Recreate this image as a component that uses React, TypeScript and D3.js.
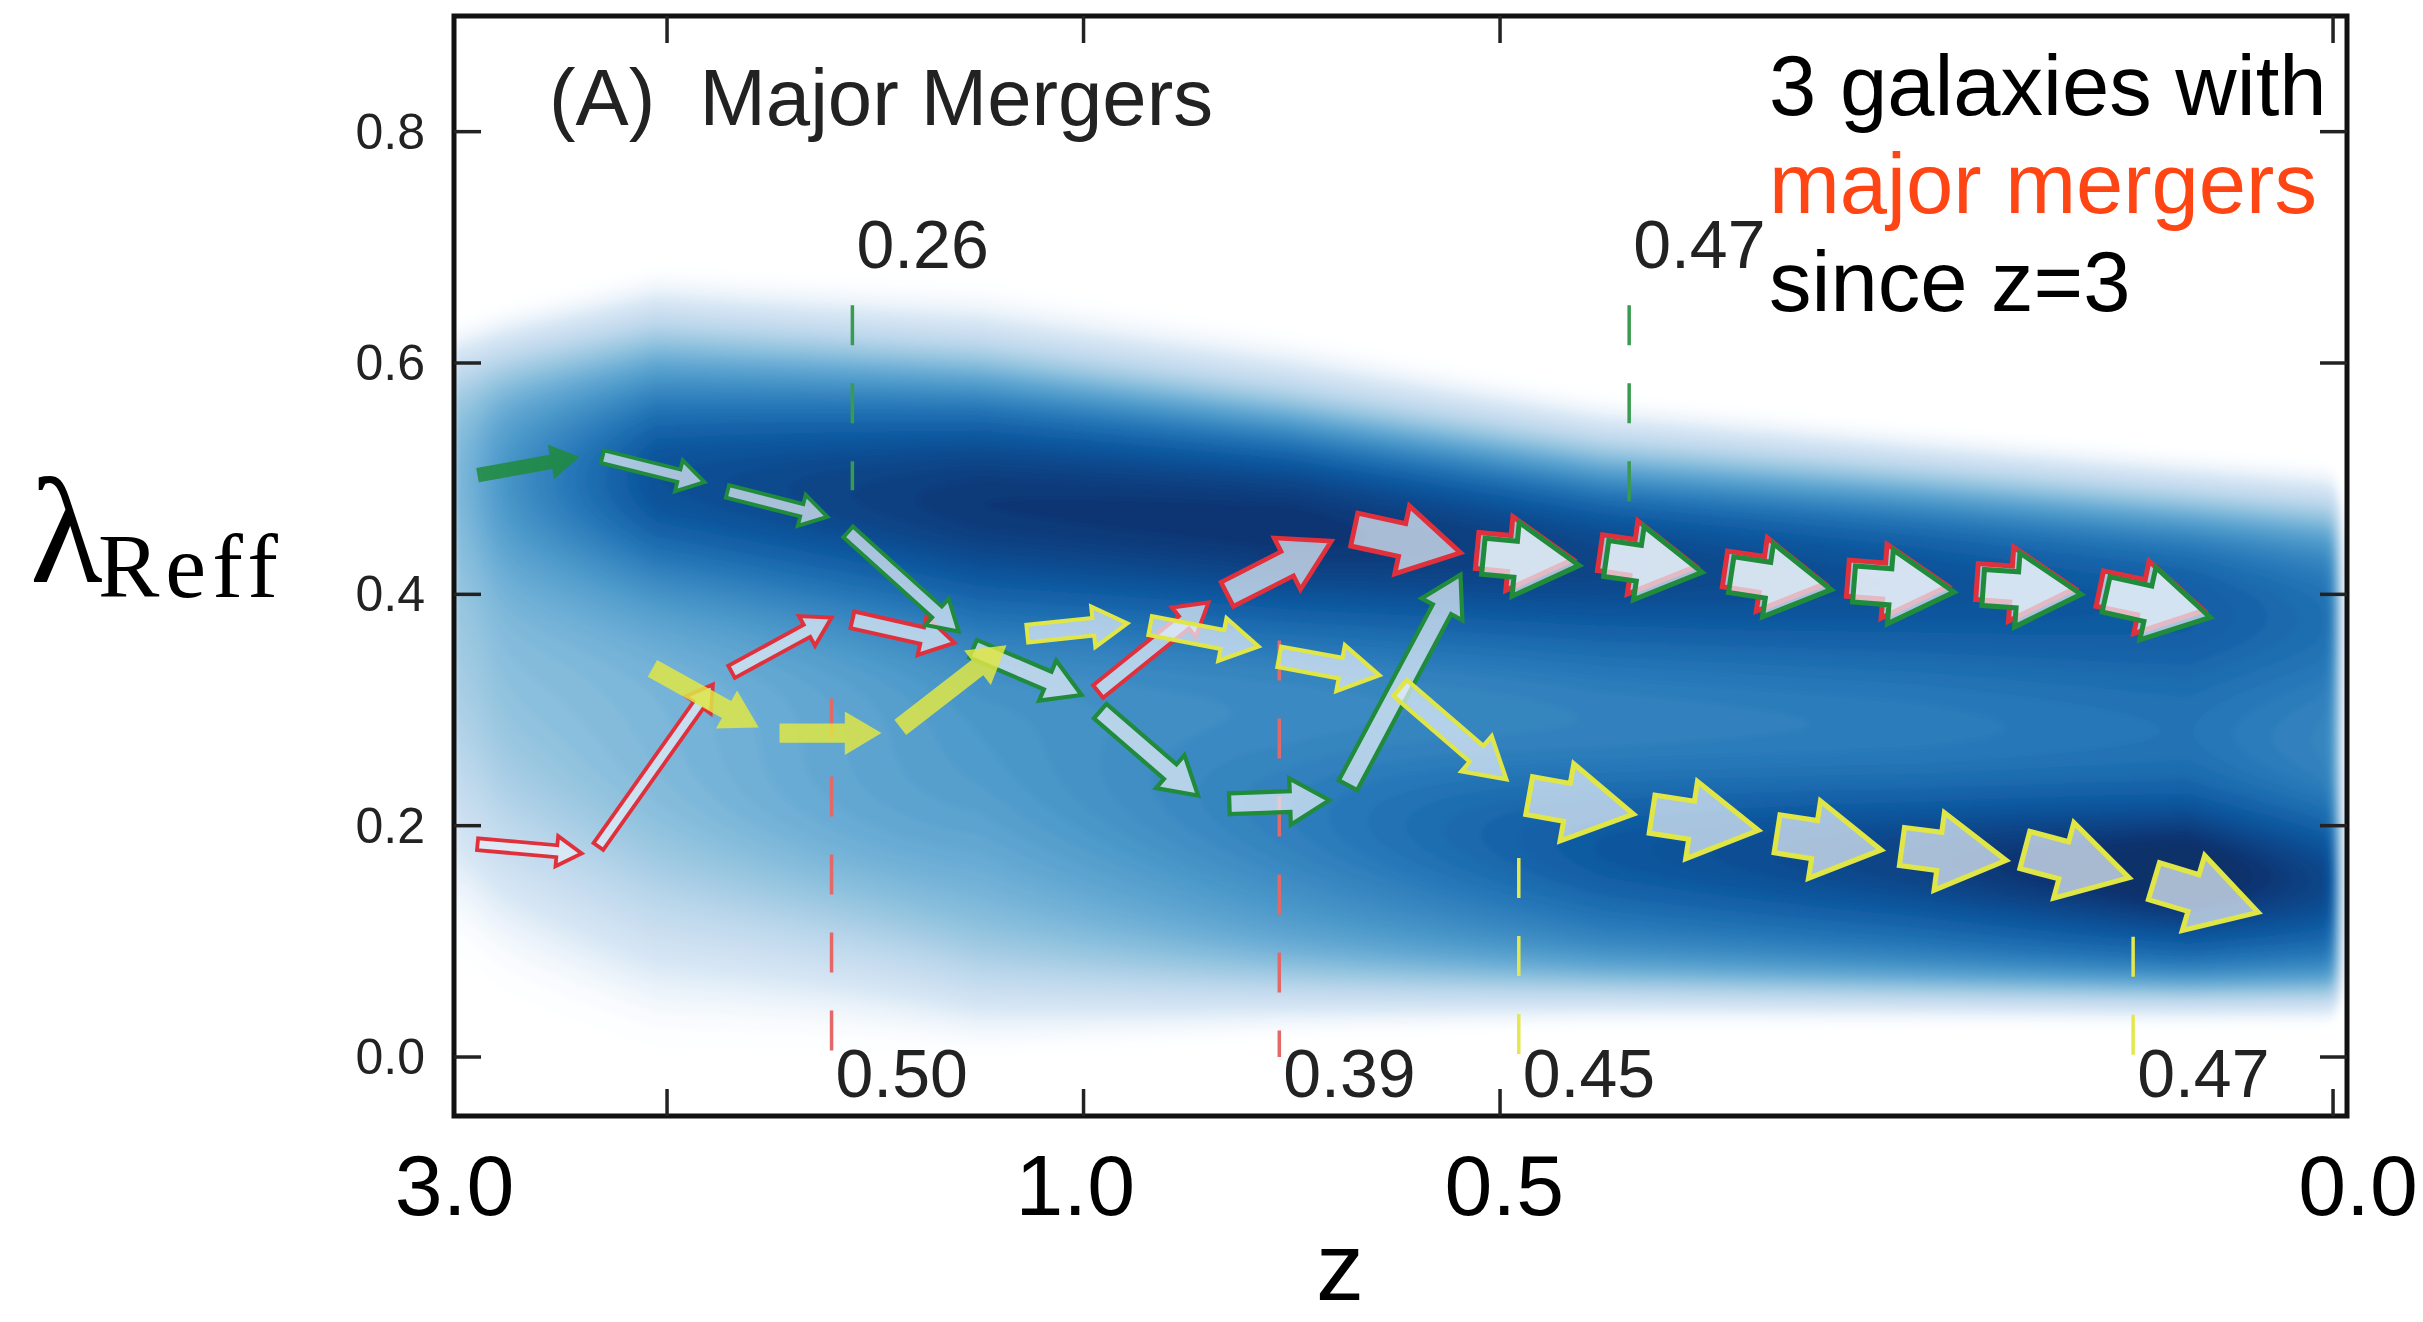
import React, { useMemo } from "react";
import * as d3 from "d3";

const W = 2423;
const H = 1322;

// ---------- axes ----------
const tDomain = [2.977, 12.067]; // underlying linear time-like axis
const lambdaDomain = [-0.051, 0.9];
const frameTicksT = [4, 6, 8, 12];
const lambdaTicks = [0, 0.2, 0.4, 0.6, 0.8];
const lambdaTickLabels = ["0.0", "0.2", "0.4", "0.6", "0.8"];
const zLabels = ["3.0", "1.0", "0.5", "0.0"];
const zLabelT = [2.98, 5.96, 8.02, 12.12];

// ---------- background density model (profile anchors along t) ----------
const densT = [2.98, 3.95, 5.5, 7.0, 8.5, 10.0, 11.3, 12.07];
const baseA = [0.45, 0.42, 0.45, 0.55, 0.65, 0.68, 0.72, 0.65];
const baseLoC = [0.2, 0.13, 0.06, 0.06, 0.06, 0.057, 0.055, 0.055];
const baseLoW = [0.06, 0.055, 0.03, 0.02, 0.015, 0.013, 0.012, 0.012];
const baseHiC = [0.6, 0.63, 0.6, 0.56, 0.52, 0.5, 0.48, 0.47];
const baseHiW = [0.02, 0.022, 0.02, 0.02, 0.02, 0.018, 0.018, 0.018];
const upC = [0.5, 0.5, 0.48, 0.46, 0.43, 0.41, 0.39, 0.38];
const upS = [0.06, 0.075, 0.085, 0.075, 0.06, 0.055, 0.05, 0.05];
const upA = [0.08, 0.46, 0.52, 0.44, 0.28, 0.2, 0.12, 0.1];
const loC = [0.2, 0.2, 0.25, 0.21, 0.18, 0.17, 0.16, 0.15];
const loS = [0.1, 0.1, 0.08, 0.065, 0.05, 0.047, 0.045, 0.045];
const loA = [0, 0.08, 0.12, 0.15, 0.2, 0.26, 0.33, 0.25];

// ---------- galaxy tracks (arrow start/end in t, lambda) ----------
const greenT0 = [3.09, 3.69, 4.29, 4.87, 5.47, 6.08, 6.7, 7.27, 7.92, 8.51, 9.11, 9.7, 10.32, 10.91];
const greenL0 = [0.503, 0.519, 0.489, 0.454, 0.353, 0.299, 0.219, 0.235, 0.433, 0.431, 0.417, 0.409, 0.406, 0.4];
const greenT1 = [3.58, 4.18, 4.77, 5.4, 5.99, 6.55, 7.18, 7.81, 8.38, 8.97, 9.59, 10.18, 10.79, 11.41];
const greenL1 = [0.519, 0.497, 0.467, 0.368, 0.313, 0.226, 0.222, 0.417, 0.425, 0.419, 0.404, 0.402, 0.4, 0.38];
const greenMass = [0.2, 0.15, 0.15, 0.2, 0.35, 0.35, 0.4, 0.4, 0.88, 0.88, 0.88, 0.88, 0.88, 0.88];
const greenSolid = [true, false, false, false, false, false, false, false, false, false, false, false, false, false];

const redT0 = [3.09, 3.67, 4.31, 4.89, 6.07, 6.69, 7.3, 7.89, 8.48, 9.08, 9.67, 10.29, 10.88];
const redL0 = [0.184, 0.182, 0.333, 0.378, 0.316, 0.4, 0.456, 0.438, 0.436, 0.422, 0.414, 0.411, 0.405];
const redT1 = [3.59, 4.22, 4.79, 5.38, 6.6, 7.19, 7.81, 8.35, 8.94, 9.56, 10.15, 10.76, 11.38];
const redL1 = [0.176, 0.322, 0.38, 0.358, 0.393, 0.446, 0.436, 0.43, 0.424, 0.409, 0.407, 0.405, 0.386];
const redMass = [0.12, 0.12, 0.18, 0.28, 0.25, 0.6, 0.8, 0.88, 0.88, 0.88, 0.88, 0.88, 0.88];

const yellowT0 = [3.93, 4.54, 5.12, 5.73, 6.32, 6.94, 7.52, 8.14, 8.73, 9.33, 9.93, 10.52, 11.14];
const yellowL0 = [0.336, 0.28, 0.285, 0.366, 0.373, 0.346, 0.319, 0.226, 0.21, 0.193, 0.182, 0.179, 0.152];
const yellowT1 = [4.44, 5.03, 5.63, 6.21, 6.84, 7.42, 8.03, 8.64, 9.24, 9.83, 10.43, 11.02, 11.64];
const yellowL1 = [0.285, 0.28, 0.356, 0.375, 0.355, 0.33, 0.24, 0.21, 0.196, 0.179, 0.17, 0.155, 0.125];
const yellowMass = [0.35, 0.35, 0.35, 0.3, 0.35, 0.4, 0.4, 0.95, 0.95, 0.95, 0.95, 0.95, 0.95];
const yellowSolid = [true, true, true, false, false, false, false, false, false, false, false, false, false];

// ---------- merger markers ----------
const mergerT = [4.89, 8.62, 4.79, 6.94, 8.09, 11.04];
const mergerRatio = ["0.26", "0.47", "0.50", "0.39", "0.45", "0.47"];
const mergerGalaxy = ["green", "green", "red", "red", "yellow", "yellow"];
const mergerFrom = [0.65, 0.65, 0.31, 0.36, 0.172, 0.104];
const mergerTo = [0.49, 0.476, 0, 0, 0, 0];

// ---------- annotation ----------
const noteLines = ["3 galaxies with", "major mergers", "since z=3"];
const title = "(A)  Major Mergers";

const COL = {
  green: "#1f8b3b",
  red: "#e0303c",
  yellow: "#dfe645",
};
const DASH = {
  green: "#3a9a50",
  red: "#e46868",
  yellow: "#e4e84e",
};

const FL = 454, FR = 2347, FT = 16, FB = 1116;

const x = d3.scaleLinear().domain(tDomain).range([FL, FR]);
const y = d3.scaleLinear().domain(lambdaDomain).range([FB, FT]);
const widthScale = d3.scaleLinear().domain([0, 1]).range([8, 40]);

function anchor(arr: number[]) {
  return d3.scaleLinear().domain(densT).range(arr).clamp(true);
}
const sig = (z: number) => 1 / (1 + Math.exp(-z));

function densityColor(v: number) {
  const b = d3.interpolateBlues(Math.min(1, v));
  const a = Math.max(0, Math.min(1, (v - 0.03) / 0.15));
  return d3.interpolateRgb("#ffffff", b)(a * a * (3 - 2 * a));
}

function arrowPoints(x0: number, y0: number, x1: number, y1: number, w: number) {
  const dx = x1 - x0, dy = y1 - y0;
  const len = Math.hypot(dx, dy);
  const ux = dx / len, uy = dy / len;
  const nx = -uy, ny = ux;
  const hw = w / 2;
  const hh = hw * 1.8 + 4.5;
  const hl = Math.min(w * 1.6 + 6, len * 0.7);
  const bx = x1 - ux * hl, by = y1 - uy * hl;
  const pts = [
    [x0 + nx * hw, y0 + ny * hw],
    [bx + nx * hw, by + ny * hw],
    [bx + nx * hh, by + ny * hh],
    [x1, y1],
    [bx - nx * hh, by - ny * hh],
    [bx - nx * hw, by - ny * hw],
    [x0 - nx * hw, y0 - ny * hw],
  ];
  return pts.map((p) => p[0].toFixed(1) + "," + p[1].toFixed(1)).join(" ");
}

function Track({ t0, l0, t1, l1, mass, solid, color }: any) {
  return (
    <g>
      {t0.map((_: number, i: number) => {
        const w = widthScale(mass[i]);
        const isSolid = solid ? solid[i] : false;
        return (
          <polygon
            key={i}
            points={arrowPoints(x(t0[i]), y(l0[i]), x(t1[i]), y(l1[i]), w)}
            fill={isSolid ? color : "#e4eef8"}
            fillOpacity={isSolid ? 0.85 : 0.72}
            stroke={color}
            strokeWidth={isSolid ? 0 : 3.2 + w * 0.05}
            strokeLinejoin="miter"
          />
        );
      })}
    </g>
  );
}

export default function App() {
  const contours = useMemo(() => {
    const nx = 380, ny = 220;
    const cw = (FR - FL) / nx, ch = (FB - FT) / ny;
    const fBA = anchor(baseA), fBLC = anchor(baseLoC), fBLW = anchor(baseLoW);
    const fBHC = anchor(baseHiC), fBHW = anchor(baseHiW);
    const fUC = anchor(upC), fUS = anchor(upS), fUA = anchor(upA);
    const fLC = anchor(loC), fLS = anchor(loS), fLA = anchor(loA);
    const values = new Float64Array(nx * ny);
    for (let j = 0; j < ny; j++) {
      const lam = y.invert(FT + (j + 0.5) * ch);
      for (let i = 0; i < nx; i++) {
        const t = x.invert(FL + (i + 0.5) * cw);
        const base = fBA(t) * sig((lam - fBLC(t)) / fBLW(t)) * sig((fBHC(t) - lam) / fBHW(t));
        const u = fUA(t) * Math.exp(-0.5 * ((lam - fUC(t)) / fUS(t)) ** 2);
        const l = fLA(t) * Math.exp(-0.5 * ((lam - fLC(t)) / fLS(t)) ** 2);
        let v = base + u + l;
        v *= sig((12.03 - t) / 0.015);
        v *= 0.85 + 0.15 * sig((t - 3.12) / 0.05);
        values[j * nx + i] = v;
      }
    }
    const thresholds = d3.range(0.035, 1.3, 0.018);
    const cs = d3.contours().size([nx, ny]).thresholds(thresholds)(Array.from(values));
    const proj = d3.geoTransform({
      point(px: number, py: number) {
        (this as any).stream.point(FL + px * cw, FT + py * ch);
      },
    });
    const path = d3.geoPath(proj);
    return cs.map((c) => ({ d: path(c as any) || "", color: densityColor(c.value + 0.009) }));
  }, []);

  const font = "'Liberation Sans', Arial, Helvetica, sans-serif";
  const serif = "'Liberation Serif', 'DejaVu Serif', serif";

  return (
    <svg width={W} height={H} style={{ position: "absolute", left: 0, top: 0, background: "#fff" }}>
      <defs>
        <clipPath id="frameClip">
          <rect x={FL} y={FT} width={FR - FL} height={FB - FT} />
        </clipPath>
        <filter id="soft" x="-2%" y="-2%" width="104%" height="104%">
          <feGaussianBlur stdDeviation="3" edgeMode="duplicate" />
        </filter>
      </defs>
      <rect x={0} y={0} width={W} height={H} fill="#fff" />

      {/* density background */}
      <g clipPath="url(#frameClip)">
        <g filter="url(#soft)">
          {contours.map((c, i) => (
            <path key={i} d={c.d} fill={c.color} stroke="none" />
          ))}
        </g>
      </g>

      {/* merger dashed lines */}
      {mergerT.map((t, i) => (
        <line
          key={"m" + i}
          x1={x(t)}
          x2={x(t)}
          y1={y(mergerFrom[i])}
          y2={y(mergerTo[i])}
          stroke={(DASH as any)[mergerGalaxy[i]]}
          strokeWidth={3.5}
          strokeDasharray="40 38"
        />
      ))}

      {/* tracks */}
      <Track t0={redT0} l0={redL0} t1={redT1} l1={redL1} mass={redMass} color={COL.red} />
      <Track t0={greenT0} l0={greenL0} t1={greenT1} l1={greenL1} mass={greenMass} solid={greenSolid} color={COL.green} />
      <Track t0={yellowT0} l0={yellowL0} t1={yellowT1} l1={yellowL1} mass={yellowMass} solid={yellowSolid} color={COL.yellow} />

      {/* merger labels */}
      {mergerT.map((t, i) => {
        const top = mergerGalaxy[i] === "green";
        return (
          <text
            key={"ml" + i}
            x={x(t) + 4}
            y={top ? y(mergerFrom[i]) - 37 : y(0) + 40}
            fontFamily={font}
            fontSize={68}
            fill="#222"
          >
            {mergerRatio[i]}
          </text>
        );
      })}

      {/* frame */}
      <rect x={FL} y={FT} width={FR - FL} height={FB - FT} fill="none" stroke="#111" strokeWidth={5} />

      {/* ticks */}
      {frameTicksT.map((t, i) => (
        <g key={"xt" + i} stroke="#222" strokeWidth={3.5}>
          <line x1={x(t)} x2={x(t)} y1={FB} y2={FB - 27} />
          <line x1={x(t)} x2={x(t)} y1={FT} y2={FT + 27} />
        </g>
      ))}
      {lambdaTicks.map((v, i) => (
        <g key={"yt" + i}>
          <line x1={FL} x2={FL + 27} y1={y(v)} y2={y(v)} stroke="#222" strokeWidth={3.5} />
          <line x1={FR} x2={FR - 27} y1={y(v)} y2={y(v)} stroke="#222" strokeWidth={3.5} />
          <text x={425} y={y(v) + 17} textAnchor="end" fontFamily={font} fontSize={50} fill="#222">
            {lambdaTickLabels[i]}
          </text>
        </g>
      ))}

      {/* z labels */}
      {zLabels.map((s, i) => (
        <text key={"zl" + i} x={x(zLabelT[i])} y={1215} textAnchor="middle" fontFamily={font} fontSize={86} fill="#000">
          {s}
        </text>
      ))}
      <text x={1340} y={1300} textAnchor="middle" fontFamily={font} fontSize={96} fill="#000">
        z
      </text>

      {/* y label */}
      <text fontFamily={serif} fill="#000">
        <tspan x={30} y={582} fontSize={150}>λ</tspan>
        <tspan x={98} y={597} fontSize={92} letterSpacing={6}>Reff</tspan>
      </text>

      {/* title */}
      <text x={549} y={125} fontFamily={font} fontSize={80} fill="#222" textLength={664} lengthAdjust="spacingAndGlyphs" xmlSpace="preserve">
        {title}
      </text>

      {/* annotation */}
      {noteLines.map((s, i) => (
        <text key={"n" + i} x={1769} y={115 + i * 98} fontFamily={font} fontSize={85} fill={i === 1 ? "#ff4514" : "#000"}>
          {s}
        </text>
      ))}
    </svg>
  );
}
